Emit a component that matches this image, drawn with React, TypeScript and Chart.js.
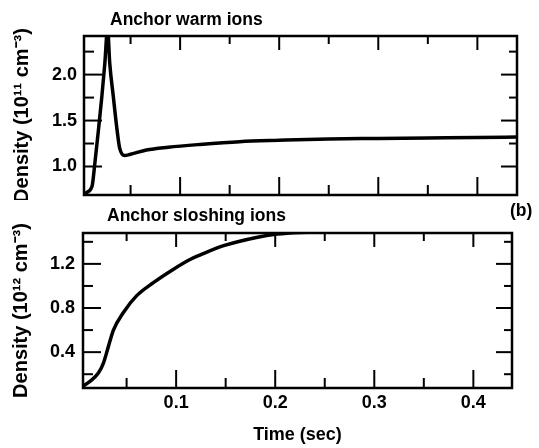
import React, { useEffect, useRef } from "react";
import { Chart, registerables } from "chart.js";

Chart.register(...registerables);

// Anchor warm ions (10^11 cm^-3) vs time (sec)
const warmTime = [0.004, 0.011, 0.014, 0.0175, 0.021, 0.024, 0.0268, 0.029, 0.0326, 0.036, 0.039, 0.044, 0.049, 0.066, 0.088, 0.12, 0.16, 0.2, 0.25, 0.3, 0.35, 0.4, 0.44];
const warmDensity = [0.71, 0.78, 1.04, 1.39, 1.76, 2.12, 2.5, 2.12, 1.76, 1.43, 1.2, 1.12, 1.13, 1.18, 1.21, 1.24, 1.27, 1.285, 1.3, 1.305, 1.31, 1.315, 1.32];

// Anchor sloshing ions (10^12 cm^-3) vs time (sec)
const sloshTime = [0.0057, 0.013, 0.0215, 0.0266, 0.0316, 0.0367, 0.0468, 0.06, 0.077, 0.097, 0.114, 0.124, 0.148, 0.181, 0.202, 0.225, 0.25, 0.3, 0.35, 0.4, 0.44];
const sloshDensity = [0.09, 0.135, 0.21, 0.3, 0.45, 0.6, 0.76, 0.91, 1.03, 1.15, 1.24, 1.28, 1.365, 1.44, 1.47, 1.485, 1.49, 1.495, 1.5, 1.5, 1.5];

const timeMajorTicks = [0.1, 0.2, 0.3, 0.4];
const timeMinorTicks = [0.05, 0.15, 0.25, 0.35];
const warmMajorTicks = [1.0, 1.5, 2.0];
const warmMinorTicks = [1.25, 1.75, 2.25];
const sloshMajorTicks = [0.4, 0.8, 1.2];
const sloshMinorTicks = [0.2, 0.6, 1.0, 1.4];

const FONT = "'Liberation Sans', Arial, Helvetica, sans-serif";

const framePlugin = {
  id: "frame",
  afterDatasetsDraw(chart: any, _args: any, opts: any) {
    const { ctx, chartArea: a, scales } = chart;
    const xs = scales.x;
    const ys = scales.y;
    ctx.save();
    ctx.strokeStyle = "#000";
    ctx.lineCap = "butt";
    ctx.lineWidth = 2;
    const seg = (x1: number, y1: number, x2: number, y2: number) => {
      ctx.beginPath();
      ctx.moveTo(x1, y1);
      ctx.lineTo(x2, y2);
      ctx.stroke();
    };
    const xTicks = (vals: number[], lt: number, lb: number) =>
      vals.forEach((v) => {
        const p = xs.getPixelForValue(v);
        seg(p, a.top, p, a.top + lt);
        seg(p, a.bottom, p, a.bottom - lb);
      });
    const yTicks = (vals: number[], ll: number, lr: number) =>
      vals.forEach((v) => {
        const p = ys.getPixelForValue(v);
        seg(a.left, p, a.left + ll, p);
        seg(a.right, p, a.right - lr, p);
      });
    xTicks(opts.xMajor, 14, 18);
    xTicks(opts.xMinor, 8, 10);
    yTicks(opts.yMajor, 18, 16);
    yTicks(opts.yMinor, 10, 8);
    ctx.lineWidth = 2.5;
    ctx.strokeRect(a.left, a.top, a.right - a.left, a.bottom - a.top);
    ctx.fillStyle = "#000";
    ctx.font = `bold 17.5px ${FONT}`;
    ctx.textBaseline = "middle";
    (opts.texts || []).forEach((t: any) => {
      ctx.textAlign = t.align || "left";
      ctx.fillText(t.text, t.x, t.y);
    });
    ctx.restore();
  },
};

function makeConfig(p: any) {
  const data = p.times.map((t: number, i: number) => ({ x: t, y: p.values[i] }));
  return {
    type: "line",
    data: {
      datasets: [
        {
          data,
          borderColor: "#000",
          borderWidth: 3.5,
          pointRadius: 0,
          cubicInterpolationMode: "monotone",
          fill: false,
          clip: 0,
        },
      ],
    },
    options: {
      animation: false,
      responsive: false,
      maintainAspectRatio: false,
      layout: { padding: p.padding },
      plugins: {
        legend: { display: false },
        tooltip: { enabled: false },
        frame: {
          xMajor: timeMajorTicks,
          xMinor: timeMinorTicks,
          yMajor: p.yMajor,
          yMinor: p.yMinor,
          texts: p.texts,
        },
      },
      scales: {
        x: {
          type: "linear",
          min: p.xMin,
          max: p.xMax,
          grid: { display: false, drawTicks: false },
          border: { display: false },
          afterBuildTicks: (s: any) => {
            s.ticks = timeMajorTicks.map((v) => ({ value: v }));
          },
          afterFit: (s: any) => {
            s.height = p.xHeight;
            s.paddingLeft = 0;
            s.paddingRight = 0;
          },
          ticks: {
            display: p.showX,
            padding: 4,
            maxRotation: 0,
            autoSkip: false,
            color: "#000",
            font: { family: FONT, size: 18, weight: "bold" },
            callback: (v: any) => Number(v).toFixed(1),
          },
          title: {
            display: p.showX,
            text: "Time (sec)",
            color: "#000",
            padding: { top: 0, bottom: 2 },
            font: { family: FONT, size: 18, weight: "bold" },
          },
        },
        y: {
          type: "linear",
          min: p.yMin,
          max: p.yMax,
          grid: { display: false, drawTicks: false },
          border: { display: false },
          afterBuildTicks: (s: any) => {
            s.ticks = p.yMajor.map((v: number) => ({ value: v }));
          },
          afterFit: (s: any) => {
            s.width = p.yWidth;
            s.paddingTop = 0;
            s.paddingBottom = 0;
          },
          ticks: {
            padding: p.yPad,
            autoSkip: false,
            color: "#000",
            font: { family: FONT, size: 18, weight: "bold" },
            callback: (v: any) => Number(v).toFixed(1),
          },
          title: {
            display: true,
            text: p.yTitle,
            color: "#000",
            padding: { top: 1, bottom: 0 },
            font: { family: FONT, size: 20, weight: "bold" },
          },
        },
      },
    },
    plugins: [framePlugin],
  };
}

export default function App() {
  const topRef = useRef<HTMLCanvasElement | null>(null);
  const botRef = useRef<HTMLCanvasElement | null>(null);

  useEffect(() => {
    const top = new Chart(
      topRef.current as any,
      makeConfig({
        times: warmTime,
        values: warmDensity,
        xMin: 0.003,
        xMax: 0.44,
        yMin: 0.69,
        yMax: 2.42,
        yMajor: warmMajorTicks,
        yMinor: warmMinorTicks,
        padding: { left: 9, right: 22, top: 36, bottom: 0 },
        yWidth: 75,
        xHeight: 5,
        yPad: 7,
        showX: false,
        yTitle: "Density (10¹¹ cm⁻³)",
        texts: [{ text: "Anchor warm ions", x: 110, y: 20 }],
      }) as any
    );
    const bot = new Chart(
      botRef.current as any,
      makeConfig({
        times: sloshTime,
        values: sloshDensity,
        xMin: 0.006,
        xMax: 0.439,
        yMin: 0.075,
        yMax: 1.48,
        yMajor: sloshMajorTicks,
        yMinor: sloshMinorTicks,
        padding: { left: 8, right: 27, top: 33, bottom: 0 },
        yWidth: 75,
        xHeight: 60,
        yPad: 8,
        showX: true,
        yTitle: "Density (10¹² cm⁻³)",
        texts: [
          { text: "Anchor sloshing ions", x: 107, y: 16 },
          { text: "(b)", x: 510, y: 11 },
        ],
      }) as any
    );
    return () => {
      top.destroy();
      bot.destroy();
    };
  }, []);

  return (
    <div
      style={{
        position: "fixed",
        left: 0,
        top: 0,
        width: 539,
        height: 448,
        background: "#fff",
        overflow: "hidden",
      }}
    >
      <canvas
        ref={topRef}
        width={539}
        height={200}
        style={{ position: "absolute", left: 0, top: 0, width: 539, height: 200 }}
      />
      <canvas
        ref={botRef}
        width={539}
        height={248}
        style={{ position: "absolute", left: 0, top: 200, width: 539, height: 248 }}
      />
    </div>
  );
}
